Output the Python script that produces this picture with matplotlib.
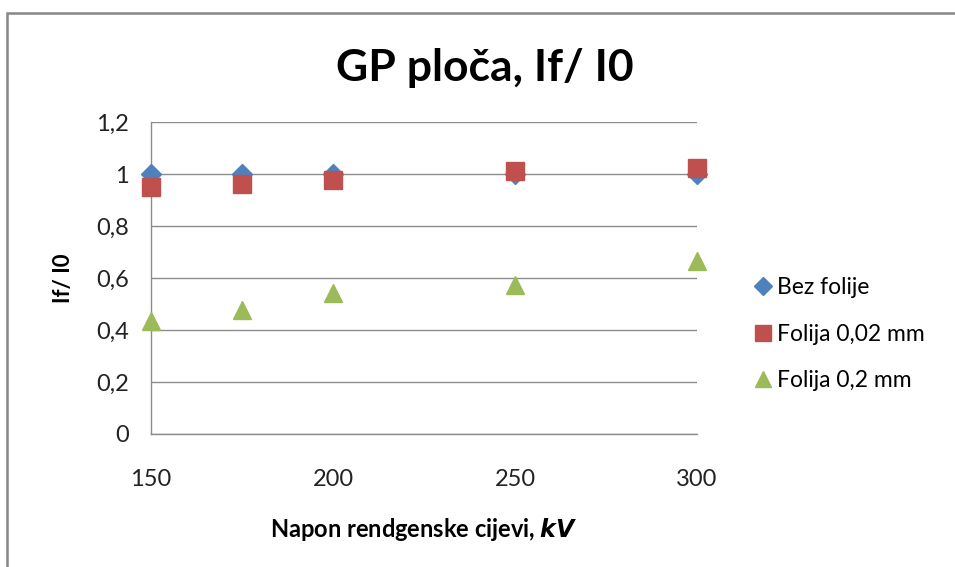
import matplotlib.pyplot as plt
from matplotlib.patches import Rectangle

# Measured values: tube voltage (kV) vs. intensity ratio If/I0
napon_kv = [150, 175, 200, 250, 300]
bez_folije = [1.0, 1.0, 1.0, 1.0, 1.0]
folija_002 = [0.951, 0.96, 0.977, 1.013, 1.024]
folija_02 = [0.434, 0.477, 0.541, 0.575, 0.665]

x_ticks = [150, 200, 250, 300]
y_ticks = [0, 0.2, 0.4, 0.6, 0.8, 1.0, 1.2]
y_tick_labels = ["0", "0,2", "0,4", "0,6", "0,8", "1", "1,2"]

plt.rcParams['font.family'] = ['Lato', 'DejaVu Sans']

fig = plt.figure(figsize=(9.55, 5.67), dpi=100)
ax = fig.add_axes([151 / 955, 133 / 567, 546 / 955, 312 / 567])

# outer chart border
fig.patches.append(Rectangle((7 / 955, -0.05), 1.1, (567 - 13) / 567 + 0.05,
                             transform=fig.transFigure, fill=False,
                             edgecolor='#878787', linewidth=1.8))

grid_col = '#8c8c8c'
ax.plot(napon_kv, bez_folije, linestyle='none', marker='D', markersize=10.5,
        color='#4F81BD', label='Bez folije', zorder=3, clip_on=False)
ax.plot(napon_kv, folija_002, linestyle='none', marker='s', markersize=13,
        color='#C0504D', label='Folija 0,02 mm', zorder=4, clip_on=False)
ax.plot(napon_kv, folija_02, linestyle='none', marker='^', markersize=13,
        color='#9BBB59', label='Folija 0,2 mm', zorder=5, clip_on=False)

ax.set_xlim(150, 300)
ax.set_ylim(0, 1.2)
ax.set_xticks(x_ticks)
ax.set_yticks(y_ticks)
ax.set_yticklabels(y_tick_labels)
ax.grid(axis='y', color=grid_col, linewidth=1)
ax.set_axisbelow(True)

for side in ['top', 'right']:
    ax.spines[side].set_visible(False)
for side in ['left', 'bottom']:
    ax.spines[side].set_color(grid_col)
    ax.spines[side].set_linewidth(1)
ax.tick_params(axis='both', length=0, labelsize=17, colors='#222222')
ax.tick_params(axis='x', pad=25)
ax.tick_params(axis='y', pad=16)

fig.text(485 / 955, 1 - 68 / 567, 'GP ploča, If/ I0', fontsize=32,
         fontweight='bold', ha='center', va='center')
ax.set_ylabel('If/ I0', fontsize=16, fontweight='bold', labelpad=16)
ax.set_xlabel(r'Napon rendgenske cijevi, $\mathbfit{kV}$', fontsize=17,
              fontweight='bold', labelpad=19)

ax.legend(loc='center left', bbox_to_anchor=(1.1, 0.32), frameon=False,
          fontsize=16.5, handletextpad=0.1, labelspacing=1.1,
          handlelength=1.0, borderaxespad=0, borderpad=0, markerscale=0.9)

fig.savefig('out.png', dpi=100)
